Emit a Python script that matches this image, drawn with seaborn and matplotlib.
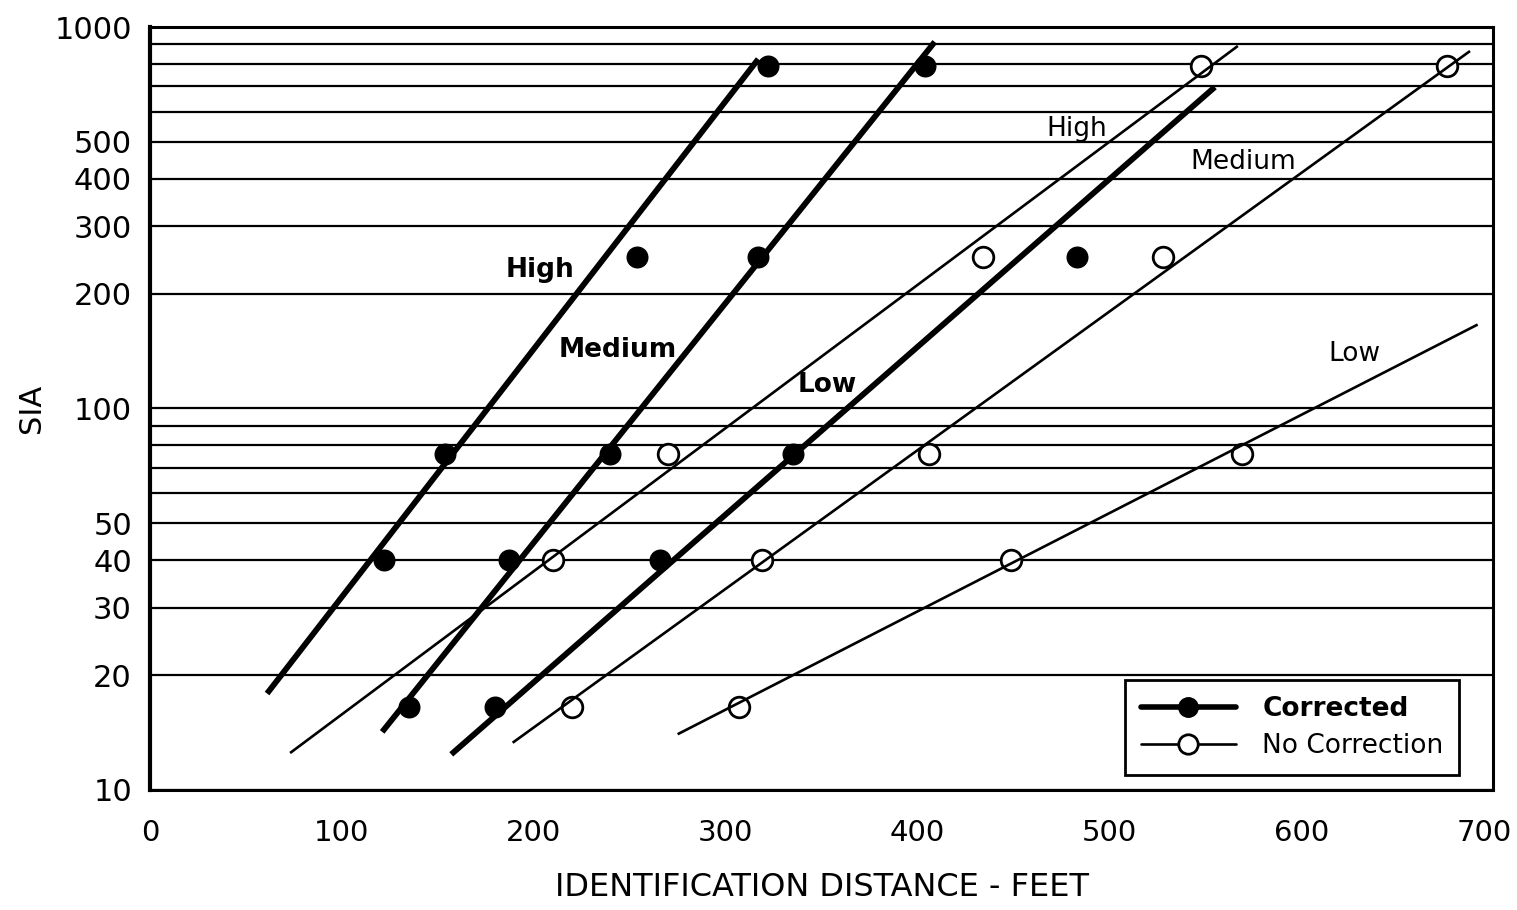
import matplotlib
matplotlib.use("Agg")
import matplotlib.pyplot as plt
from matplotlib.lines import Line2D
from matplotlib.ticker import FixedLocator, FuncFormatter
from matplotlib.transforms import ScaledTranslation
import seaborn as sns

# observed points (identification distance in feet, SIA)
corr_x = [135, 180, 122, 187, 266, 154, 240, 335, 254, 317, 483, 322, 404]
corr_y = [16.5, 16.5, 40, 40, 40, 76, 76, 76, 250, 250, 250, 790, 790]
nocorr_x = [220, 307, 210, 319, 449, 270, 406, 569, 434, 528, 548, 676]
nocorr_y = [16.5, 16.5, 40, 40, 40, 76, 76, 76, 250, 250, 790, 790]

# fitted lines (end points)
fit_names = ["High", "Medium", "Low"]
corr_fit_x = [[61, 317], [121, 409], [157, 555]]
corr_fit_y = [[17.9, 824], [14.2, 914], [12.4, 696]]
nocorr_fit_x = [[73, 567], [189, 688], [275, 692]]
nocorr_fit_y = [[12.5, 892], [13.3, 865], [14.0, 166]]

# curve labels
corr_lab_x = [203, 244, 353]
corr_lab_y = [231, 142, 115]
nocorr_lab_x = [483, 570, 628]
nocorr_lab_y = [540, 443, 139]

y_labeled = [10, 20, 30, 40, 50, 100, 200, 300, 400, 500, 1000]

sns.set_style("white")
plt.rcParams['font.family'] = ['DejaVu Sans']
plt.rcParams.update({"text.color": "black", "axes.labelcolor": "black",
                     "xtick.color": "black", "ytick.color": "black"})

fig = plt.figure(figsize=(15.17, 9.10), dpi=100)
ax = fig.add_axes([0.0989, 0.1319, 0.8853, 0.8384])
ax.set_yscale("log")

for xs, ys in zip(corr_fit_x, corr_fit_y):
    sns.lineplot(x=xs, y=ys, ax=ax, color="black", lw=4.2, zorder=4,
                 solid_capstyle="butt")
for xs, ys in zip(nocorr_fit_x, nocorr_fit_y):
    sns.lineplot(x=xs, y=ys, ax=ax, color="black", lw=1.9, zorder=4,
                 solid_capstyle="butt")

sns.scatterplot(x=corr_x, y=corr_y, ax=ax, s=220, color="black",
                edgecolor="black", linewidth=1, zorder=3)
sns.scatterplot(x=nocorr_x, y=nocorr_y, ax=ax, s=220, facecolor="white",
                edgecolor="black", linewidth=2, zorder=3)

for name, x, y in zip(fit_names, corr_lab_x, corr_lab_y):
    ax.text(x, y, name, ha="center", va="center", fontsize=19,
            fontweight="bold", zorder=5)
for name, x, y in zip(fit_names, nocorr_lab_x, nocorr_lab_y):
    ax.text(x, y, name, ha="center", va="center", fontsize=19, zorder=5)

ax.set_xlim(0, 700)
ax.set_ylim(10, 1000)
ax.set_xticks(range(0, 701, 100))

ax.yaxis.set_major_locator(FixedLocator([10, 100, 1000]))
ax.yaxis.set_minor_locator(FixedLocator([m * d for d in (10, 100) for m in range(2, 10)]))
fmt = FuncFormatter(lambda v, p: f"{v:g}" if round(v) in y_labeled else "")
ax.yaxis.set_major_formatter(fmt)
ax.yaxis.set_minor_formatter(fmt)

ax.grid(False)
ax.grid(True, which="both", axis="y", color="black", lw=1.6)
ax.set_axisbelow(True)

ax.tick_params(axis="y", which="major", direction="out", length=9, width=2,
               labelsize=22, pad=4)
ax.tick_params(axis="y", which="minor", length=0, labelsize=22, pad=13)
ax.tick_params(axis="x", direction="inout", length=18, width=2,
               labelsize=21, pad=12)

# keep the last x label inside the figure
fig.canvas.draw()
last = ax.get_xticklabels()[-1]
last.set_transform(last.get_transform() + ScaledTranslation(-6 / 72, 0, fig.dpi_scale_trans))

for side in ["left", "bottom", "right", "top"]:
    ax.spines[side].set_color("black")
    ax.spines[side].set_linewidth(2.2)
ax.spines["left"].set_linewidth(3)

ax.set_xlabel("IDENTIFICATION DISTANCE - FEET", fontsize=23, labelpad=18)
ax.set_ylabel("SIA", fontsize=22, labelpad=6)

handles = [
    Line2D([], [], color="black", lw=4, marker="o", markersize=14,
           markerfacecolor="black", markeredgecolor="black"),
    Line2D([], [], color="black", lw=1.9, marker="o", markersize=14,
           markerfacecolor="white", markeredgecolor="black", markeredgewidth=2),
]
leg = ax.legend(handles, ["Corrected", "No Correction"], loc="lower right",
                bbox_to_anchor=(0.975, 0.02), borderaxespad=0, fontsize=19,
                handlelength=3.6, frameon=True, fancybox=False, borderpad=0.6,
                labelspacing=0.4, handletextpad=1.0)
leg.get_frame().set_edgecolor("black")
leg.get_frame().set_linewidth(2)
leg.get_frame().set_alpha(1)
leg.set_zorder(6)
leg.get_texts()[0].set_fontweight("bold")

fig.savefig("out.png", dpi=100)
